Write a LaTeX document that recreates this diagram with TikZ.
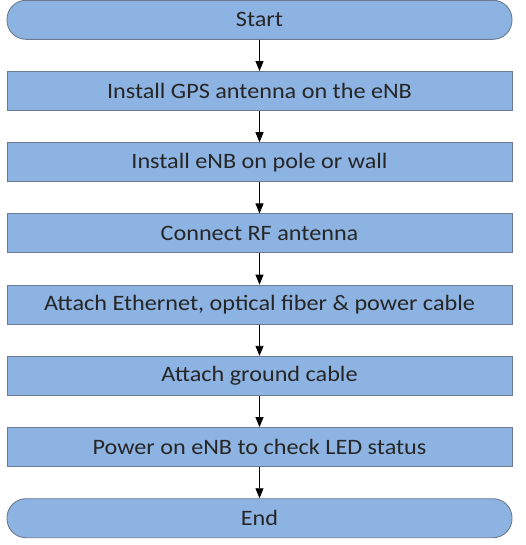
\documentclass[tikz,border=0pt]{standalone}
\usepackage{fontspec}
\setmainfont{Carlito}[FakeStretch=1.1]
\usetikzlibrary{matrix,arrows.meta}
\definecolor{boxfill}{HTML}{8DB3E2}
\definecolor{boxline}{HTML}{6B7A8F}

\begin{document}
\begin{tikzpicture}
    % Area del disegno
    \useasboundingbox (0pt,0pt) rectangle (526pt,-545pt);

    % Creazione della matrice
    \matrix (m) at (259.5pt,-269pt) [matrix of nodes,
                 nodes={draw = boxline, fill = boxfill, line width=0.9pt,
                        minimum width=505pt, minimum height=39pt,
                        anchor=center, font=\fontsize{22pt}{26pt}\selectfont,
                        text=black!85},
                 row sep=31.3pt]
    {
        |[rounded corners=19pt]| Start \\
        Install GPS antenna on the eNB \\
        Install eNB on pole or wall \\
        Connect RF antenna \\
        Attach Ethernet, optical fiber \& power cable \\
        Attach ground cable \\
        Power on eNB to check LED status \\
        |[rounded corners=19pt]| End \\
    };

    % Frecce tra i passi
    \draw[-{Triangle[length=10pt,width=8pt]}, thick] (m-1-1) -- (m-2-1);  % Start -> GPS
    \draw[-{Triangle[length=10pt,width=8pt]}, thick] (m-2-1) -- (m-3-1);  % GPS -> eNB
    \draw[-{Triangle[length=10pt,width=8pt]}, thick] (m-3-1) -- (m-4-1);  % eNB -> RF
    \draw[-{Triangle[length=10pt,width=8pt]}, thick] (m-4-1) -- (m-5-1);  % RF -> cavi
    \draw[-{Triangle[length=10pt,width=8pt]}, thick] (m-5-1) -- (m-6-1);  % cavi -> terra
    \draw[-{Triangle[length=10pt,width=8pt]}, thick] (m-6-1) -- (m-7-1);  % terra -> LED
    \draw[-{Triangle[length=10pt,width=8pt]}, thick] (m-7-1) -- (m-8-1);  % LED -> End

\end{tikzpicture}
\end{document}
